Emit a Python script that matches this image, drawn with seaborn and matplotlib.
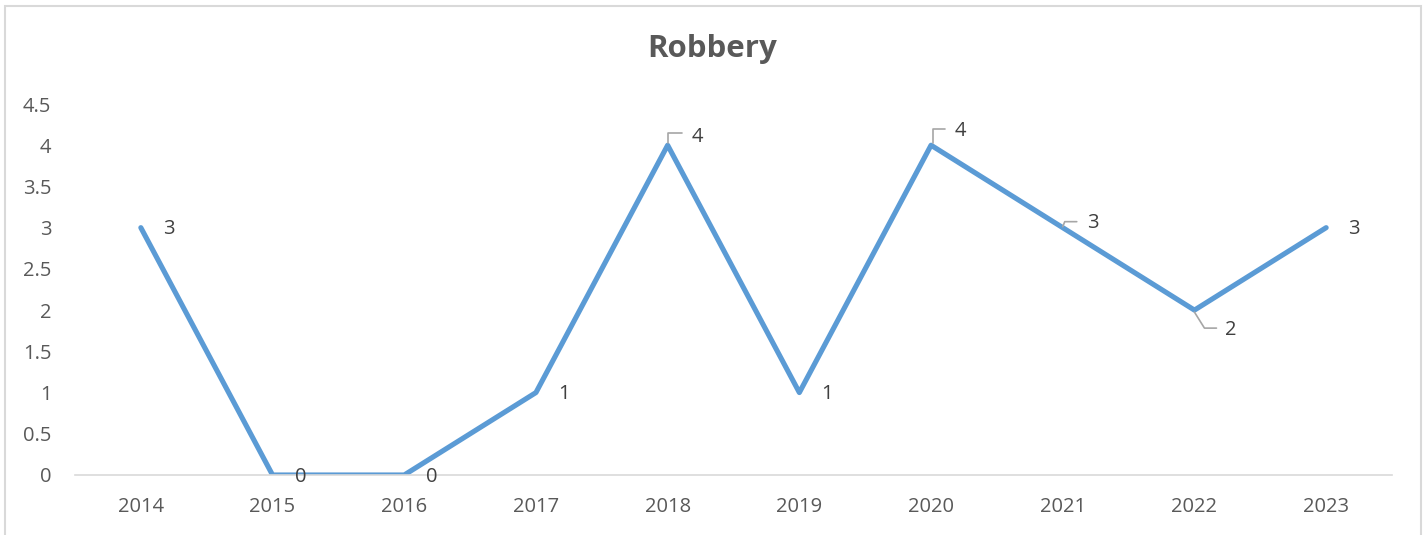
import numpy as np
import pandas as pd
import seaborn as sns
import matplotlib
matplotlib.use("Agg")
import matplotlib.pyplot as plt
import matplotlib.transforms as mtransforms
from matplotlib.lines import Line2D
from matplotlib.patches import Rectangle

# ---- data ----
years = ['2014', '2015', '2016', '2017', '2018', '2019', '2020', '2021', '2022', '2023']
robbery = [3, 0, 0, 1, 4, 1, 4, 3, 2, 3]
y_ticks = [0, 0.5, 1, 1.5, 2, 2.5, 3, 3.5, 4, 4.5]
y_tick_labels = ['0', '0.5', '1', '1.5', '2', '2.5', '3', '3.5', '4', '4.5']
title = 'Robbery'

sns.set_theme(style='white')
plt.rcParams['font.family'] = ['Open Sans', 'DejaVu Sans']

W, H = 1425, 535
fig = plt.figure(figsize=(W / 100, H / 100), dpi=100)
ax = fig.add_axes([75 / W, 60 / H, (1392 - 75) / W, (475 - 104) / H])

df = pd.DataFrame({'Year': years, 'Robbery': robbery})
sns.lineplot(data=df, x='Year', y='Robbery', ax=ax, color='#5B9BD5',
             linewidth=3.7, solid_capstyle='round', solid_joinstyle='round',
             sort=False)

ax.set_xlim(-0.5, len(years) - 0.5)
ax.set_ylim(0, 4.5)
ax.set_yticks(y_ticks)
ax.set_yticklabels(y_tick_labels)
ax.set_xlabel('')
ax.set_ylabel('')
for s in ['top', 'right', 'left']:
    ax.spines[s].set_visible(False)
ax.spines['bottom'].set_color('#d9d9d9')
ax.spines['bottom'].set_linewidth(1.2)
ax.grid(False)
ax.tick_params(axis='both', length=0, labelsize=14.5, colors='#595959')
ax.tick_params(axis='y', pad=17)
ax.tick_params(axis='x', pad=16)

# data labels: offsets in pixels (dx of label left edge, dy of label center), leader path
px = 0.72
label_style = {
    4: ((24, 8), [(0, 2), (0, 12), (14, 12)]),
    6: ((24, 14), [(2, 2), (2, 16), (14, 16)]),
    7: ((24, 5), [(0, 1), (2, 6), (14, 6)]),
    8: ((31, -20), [(0, -2), (10, -18), (22, -18)]),
}
for i, v in enumerate(robbery):
    (dx, dy), path = label_style.get(i, ((22, -1.5), None))
    ax.annotate(str(v), xy=(i, v), xytext=(dx * px, dy * px), textcoords='offset points',
                ha='left', va='center', fontsize=14.5, color='#404040',
                annotation_clip=False)
    if path is not None:
        xs = [p[0] for p in path]
        ys = [p[1] for p in path]
        ln = Line2D(xs, ys, transform=mtransforms.ScaledTranslation(i, v, ax.transData),
                    color='#a6a6a6', linewidth=1.2, clip_on=False)
        ax.add_artist(ln)

fig.text(0.5, 1 - 49 / H, title, ha='center', va='center', fontsize=22.5,
         fontweight='bold', color='#595959')

fig.add_artist(Rectangle((4.5 / W, -0.05), (1421 - 4.5) / W, (H - 5.5) / H + 0.05,
                         transform=fig.transFigure, fill=False,
                         edgecolor='#d9d9d9', linewidth=1.5))

fig.savefig('out.png', dpi=100)
